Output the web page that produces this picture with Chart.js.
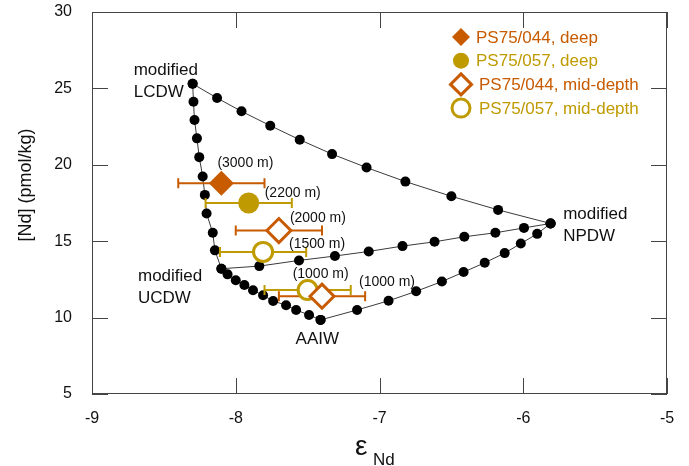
<!DOCTYPE html>
<html lang="en">
<head>
<meta charset="UTF-8">
<title>Nd mixing plot</title>
<script src="https://cdn.jsdelivr.net/npm/chart.js@4.4.0/dist/chart.umd.min.js"></script>
<style>
  html, body { margin: 0; padding: 0; background: #fff; }
  .graph-container { width: 689px; height: 466px; }
</style>
</head>
<body>
<div class="graph-container"><canvas id="myChart"></canvas></div>
<script>
// mixing curves: eNd (x) and [Nd] pmol/kg (y)
const lcdwNpdwX = [-8.30, -8.13, -7.96, -7.76, -7.555, -7.33, -7.09, -6.82, -6.50, -6.175, -5.81];
const lcdwNpdwY = [25.3, 24.37, 23.5, 22.56, 21.64, 20.7, 19.82, 18.9, 17.94, 17.05, 16.16];

const lcdwAaiwX = [-8.30, -8.294, -8.287, -8.27, -8.254, -8.23, -8.215, -8.203, -8.16, -8.145, -8.10,
                   -8.057, -8.0, -7.94, -7.88, -7.81, -7.74, -7.65, -7.58, -7.49, -7.41];
const lcdwAaiwY = [25.3, 24.13, 22.93, 21.73, 20.5, 19.23, 18.03, 16.81, 15.55, 14.4, 13.2,
                   12.83, 12.45, 12.13, 11.79, 11.46, 11.09, 10.81, 10.5, 10.17, 9.85];

const ucdwNpdwX = [-8.10, -7.836, -7.56, -7.31, -7.075, -6.84, -6.617, -6.41, -6.194, -5.995, -5.81];
const ucdwNpdwY = [13.2, 13.37, 13.74, 14.03, 14.33, 14.68, 14.96, 15.29, 15.55, 15.87, 16.16];

const aaiwNpdwX = [-7.41, -7.156, -6.937, -6.745, -6.566, -6.415, -6.268, -6.129, -6.017, -5.903, -5.81];
const aaiwNpdwY = [9.85, 10.5, 11.1, 11.72, 12.36, 12.98, 13.59, 14.22, 14.85, 15.48, 16.16];

// samples
const deep044X = [-8.10], deep044Y = [18.8], deep044Err = [0.3], deep044Depth = ['(3000 m)'];
const deep057X = [-7.91], deep057Y = [17.5], deep057Err = [0.3], deep057Depth = ['(2200 m)'];
const mid044X = [-7.70, -7.40], mid044Y = [15.7, 11.4], mid044Err = [0.3, 0.3], mid044Depth = ['(2000 m)', '(1000 m)'];
const mid057X = [-7.81, -7.50], mid057Y = [14.3, 11.8], mid057Err = [0.3, 0.3], mid057Depth = ['(1500 m)', '(1000 m)'];

const xTicks = [-9, -8, -7, -6, -5];
const yTicks = [5, 10, 15, 20, 25, 30];

const ORANGE = '#c85a00';
const GOLD = '#bf9a00';

function pts(xs, ys) {
    return xs.map((x, i) => ({ x: x, y: ys[i] }));
}

// label offsets (px) for depth text, relative to marker
const depthOffsets = [[[-4, -20]], [[16, -10]], [[11, -12], [37, -14]], [[26, -8], [-15, -16]]];

const samples = [
    { name: 'PS75/044, deep', xs: deep044X, ys: deep044Y, err: deep044Err, depth: deep044Depth, color: ORANGE, style: 'rectRot', r: 12.5, open: false },
    { name: 'PS75/057, deep', xs: deep057X, ys: deep057Y, err: deep057Err, depth: deep057Depth, color: GOLD, style: 'circle', r: 10.5, open: false },
    { name: 'PS75/044, mid-depth', xs: mid044X, ys: mid044Y, err: mid044Err, depth: mid044Depth, color: ORANGE, style: 'rectRot', r: 12, open: true },
    { name: 'PS75/057, mid-depth', xs: mid057X, ys: mid057Y, err: mid057Err, depth: mid057Depth, color: GOLD, style: 'circle', r: 9.5, open: true }
];

const waterLabels = [
    { lines: ['modified', 'LCDW'], x: -8.71, y: 26.16 },
    { lines: ['modified', 'UCDW'], x: -8.68, y: 12.68 },
    { lines: ['AAIW'], x: -7.584, y: 8.6 },
    { lines: ['modified', 'NPDW'], x: -5.722, y: 16.78 }
];

const datasets = samples.map(s => ({
    label: s.name,
    data: pts(s.xs, s.ys),
    pointStyle: s.style,
    pointRadius: s.r,
    pointHoverRadius: s.r,
    backgroundColor: s.open ? '#ffffff' : s.color,
    borderColor: s.color,
    borderWidth: s.open ? 3 : 0,
    showLine: false
}));

[[lcdwNpdwX, lcdwNpdwY], [lcdwAaiwX, lcdwAaiwY], [ucdwNpdwX, ucdwNpdwY], [aaiwNpdwX, aaiwNpdwY]].forEach((c, i) => {
    datasets.push({
        label: 'curve' + i,
        data: pts(c[0], c[1]),
        showLine: true,
        borderColor: '#3a3a3a',
        borderWidth: 1,
        pointRadius: 5,
        pointHoverRadius: 5,
        pointBackgroundColor: '#000',
        pointBorderWidth: 0
    });
});

const decor = {
    id: 'decor',
    beforeDatasetDraw(chart, args) {
        // error bars, drawn under the sample markers
        if (args.index !== samples.length - 1) return;
        const ctx = chart.ctx, xs = chart.scales.x, ys = chart.scales.y;
        ctx.save();
        ctx.lineWidth = 2;
        samples.forEach(s => {
            ctx.strokeStyle = s.color;
            s.xs.forEach((x, i) => {
                const py = ys.getPixelForValue(s.ys[i]);
                const x0 = xs.getPixelForValue(x - s.err[i]);
                const x1 = xs.getPixelForValue(x + s.err[i]);
                ctx.beginPath();
                ctx.moveTo(x0, py); ctx.lineTo(x1, py);
                ctx.moveTo(x0, py - 5); ctx.lineTo(x0, py + 5);
                ctx.moveTo(x1, py - 5); ctx.lineTo(x1, py + 5);
                ctx.stroke();
            });
        });
        ctx.restore();
    },
    afterDraw(chart) {
        const ctx = chart.ctx, a = chart.chartArea, xs = chart.scales.x, ys = chart.scales.y;
        ctx.save();
        // frame and inward ticks
        ctx.strokeStyle = '#444';
        ctx.lineWidth = 1;
        ctx.strokeRect(a.left + 0.5, a.top + 0.5, a.right - a.left - 1, a.bottom - a.top - 1);
        ctx.beginPath();
        xTicks.forEach(t => {
            const px = Math.round(xs.getPixelForValue(t)) + 0.5;
            ctx.moveTo(px, a.bottom); ctx.lineTo(px, a.bottom - 16);
            ctx.moveTo(px, a.top); ctx.lineTo(px, a.top + 16);
        });
        yTicks.forEach(t => {
            const py = Math.round(ys.getPixelForValue(t)) + 0.5;
            ctx.moveTo(a.left, py); ctx.lineTo(a.left + 16, py);
            ctx.moveTo(a.right, py); ctx.lineTo(a.right - 16, py);
        });
        ctx.stroke();

        // depth labels
        ctx.fillStyle = '#111';
        ctx.font = '14px "Liberation Sans", Arial, sans-serif';
        ctx.textAlign = 'left';
        ctx.textBaseline = 'middle';
        samples.forEach((s, si) => {
            s.xs.forEach((x, i) => {
                const px = xs.getPixelForValue(x), py = ys.getPixelForValue(s.ys[i]);
                const off = depthOffsets[si][i];
                ctx.fillText(s.depth[i], px + off[0], py + off[1]);
            });
        });

        // water mass labels
        ctx.font = '17px "Liberation Sans", Arial, sans-serif';
        waterLabels.forEach(w => {
            const px = xs.getPixelForValue(w.x), py = ys.getPixelForValue(w.y);
            w.lines.forEach((ln, k) => ctx.fillText(ln, px, py + k * 22));
        });

        // legend
        const lx = a.right - 206, ly = a.top + 25;
        ctx.font = '17px "Liberation Sans", Arial, sans-serif';
        samples.forEach((s, i) => {
            const y = ly + i * 23.7;
            const r = s.style === 'rectRot' ? (s.open ? 10.5 : 9) : (s.open ? 9 : 8);
            ctx.beginPath();
            if (s.style === 'rectRot') {
                ctx.moveTo(lx, y - r); ctx.lineTo(lx + r, y); ctx.lineTo(lx, y + r); ctx.lineTo(lx - r, y); ctx.closePath();
            } else {
                ctx.arc(lx, y, r, 0, Math.PI * 2);
            }
            if (s.open) {
                ctx.fillStyle = '#fff'; ctx.fill();
                ctx.lineWidth = 3; ctx.strokeStyle = s.color; ctx.stroke();
            } else {
                ctx.fillStyle = s.color; ctx.fill();
            }
            ctx.fillStyle = s.color;
            ctx.fillText(s.name, lx + 14 + (s.open ? 4 : 1), y + 1);
        });

        // axis titles
        ctx.fillStyle = '#111';
        ctx.textAlign = 'left';
        ctx.textBaseline = 'alphabetic';
        ctx.font = '28px "Liberation Sans", Arial, sans-serif';
        ctx.fillText('\u03b5', 355, 455);
        ctx.font = '17px "Liberation Sans", Arial, sans-serif';
        ctx.fillText('Nd', 373, 465);

        ctx.translate(31, 185);
        ctx.rotate(-Math.PI / 2);
        ctx.textAlign = 'center';
        ctx.font = '18px "Liberation Sans", Arial, sans-serif';
        ctx.fillText('[Nd] (pmol/kg)', 0, 0);
        ctx.restore();
    }
};

const ctx = document.getElementById('myChart').getContext('2d');
const chart = new Chart(ctx, {
    type: 'scatter',
    data: { datasets: datasets },
    options: {
        responsive: true,
        maintainAspectRatio: false,
        animation: false,
        events: [],
        layout: { padding: { left: 0, right: 22, top: 12, bottom: 0 }, autoPadding: false },
        plugins: { legend: { display: false }, tooltip: { enabled: false } },
        scales: {
            x: {
                type: 'linear', min: -9, max: -5,
                afterFit(scale) { scale.height = 72; scale.paddingLeft = 0; scale.paddingRight = 0; },
                afterBuildTicks(scale) { scale.ticks = xTicks.map(v => ({ value: v })); },
                grid: { display: false },
                border: { display: false },
                ticks: { padding: 7, color: '#111', font: { family: '"Liberation Sans", Arial, sans-serif', size: 16 } }
            },
            y: {
                type: 'linear', min: 5, max: 30,
                afterFit(scale) { scale.width = 92; scale.paddingTop = 0; scale.paddingBottom = 0; },
                afterBuildTicks(scale) { scale.ticks = yTicks.map(v => ({ value: v })); },
                grid: { display: false },
                border: { display: false },
                ticks: { padding: 12, color: '#111', font: { family: '"Liberation Sans", Arial, sans-serif', size: 16 } }
            }
        }
    },
    plugins: [decor]
});
</script>
</body>
</html>
